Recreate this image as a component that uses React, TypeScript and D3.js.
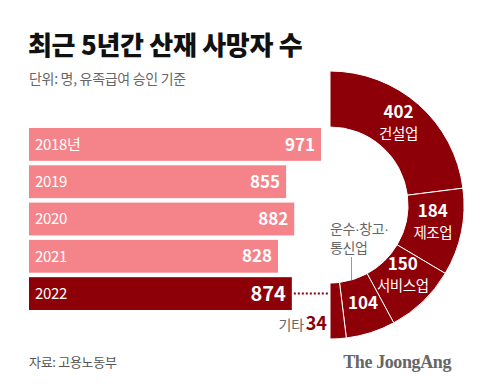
import * as d3 from "d3";
import { useEffect, useRef } from "react";

// 연도별 산재 사망자 수
const years = ["2018년", "2019", "2020", "2021", "2022"];
const deaths = [971, 855, 882, 828, 874];

// 2022년 업종별
const sectors = ["건설업", "제조업", "서비스업", "운수·창고·통신업", "기타"];
const sectorDeaths = [402, 184, 150, 104, 34];

const PINK = "#f5848a";
const DARK = "#8e0008";
const FONT = "'Noto Sans CJK KR', 'Noto Sans', sans-serif";

const App = () => {
  const ref = useRef<SVGSVGElement>(null);
  const width = 480;
  const height = 390;

  useEffect(() => {
    const svg = d3.select(ref.current);
    svg.selectAll("*").remove();

    svg.append("rect").attr("width", width).attr("height", height).attr("fill", "#fff");

    // 제목
    svg.append("text")
      .attr("x", 28).attr("y", 55)
      .attr("font-family", FONT).attr("font-weight", 900)
      .attr("font-size", 26).attr("letter-spacing", -0.3)
      .attr("fill", "#111")
      .text("최근 5년간 산재 사망자 수");

    svg.append("text")
      .attr("x", 29).attr("y", 84)
      .attr("font-family", FONT).attr("font-size", 14)
      .attr("letter-spacing", -0.3)
      .attr("fill", "#666")
      .text("단위: 명, 유족급여 승인 기준");

    // 막대
    const x = d3.scaleLinear().domain([0, 971]).range([29, 321]);
    const y = d3.scaleBand().domain(years).range([128, 310]).paddingInner(0.12).paddingOuter(0);

    const bars = svg.append("g");
    years.forEach((yr, i) => {
      const last = i === years.length - 1;
      const by = y(yr)!;
      bars.append("rect")
        .attr("x", x(0)).attr("y", by)
        .attr("width", x(deaths[i]) - x(0)).attr("height", y.bandwidth())
        .attr("fill", last ? DARK : PINK);
      bars.append("text")
        .attr("x", 35).attr("y", by + y.bandwidth() / 2)
        .attr("dy", "0.36em")
        .attr("font-family", FONT).attr("font-size", 15)
        .attr("letter-spacing", -0.3)
        .attr("fill", "#fff")
        .text(yr);
      bars.append("text")
        .attr("x", x(deaths[i]) - 6).attr("y", by + y.bandwidth() / 2)
        .attr("dy", "0.36em")
        .attr("text-anchor", "end")
        .attr("font-family", FONT).attr("font-weight", 700)
        .attr("font-size", last ? 20 : 17)
        .attr("fill", "#fff")
        .text(deaths[i]);
    });

    // 반원 도넛
    const cx = 330, cy = 205, r0 = 78, r1 = 134;
    const pie = d3.pie<number>().sort(null).startAngle(0).endAngle(Math.PI);
    const arcs = pie(sectorDeaths);
    const arc = d3.arc<d3.PieArcDatum<number>>().innerRadius(r0).outerRadius(r1);
    const g = svg.append("g").attr("transform", `translate(${cx},${cy})`);
    g.selectAll("path")
      .data(arcs)
      .join("path")
      .attr("d", arc)
      .attr("fill", DARK)
      .attr("stroke", "#fff")
      .attr("stroke-width", 1);

    // 점선 연결
    const lastY = y(years[4])! + y.bandwidth() / 2;
    svg.append("line")
      .attr("x1", x(874) + 2).attr("x2", cx - 1)
      .attr("y1", lastY).attr("y2", lastY)
      .attr("stroke", DARK).attr("stroke-width", 2)
      .attr("stroke-dasharray", "2,2");

    const labelArc = d3.arc<d3.PieArcDatum<number>>().innerRadius(100).outerRadius(110);
    const offs = [[-1, -3], [0, -4], [0, -6], [1, -2]];
    arcs.slice(0, 4).forEach((a, i) => {
      const [lx, ly] = labelArc.centroid(a);
      const tx = lx + offs[i][0], ty = ly + offs[i][1];
      g.append("text")
        .attr("x", tx).attr("y", ty - (i < 3 ? 5 : -6))
        .attr("text-anchor", "middle")
        .attr("font-family", FONT).attr("font-weight", 700)
        .attr("font-size", 17).attr("fill", "#fff")
        .text(a.data);
      if (i < 3) {
        g.append("text")
          .attr("x", tx).attr("y", ty + 16)
          .attr("text-anchor", "middle")
          .attr("font-family", FONT).attr("font-size", 14.5)
          .attr("letter-spacing", -0.4)
          .attr("fill", "#fff")
          .text(sectors[i]);
      }
    });

    // 운수·창고·통신업 라벨 (안쪽)
    const tr = arcs[3];
    const ang = (tr.startAngle + tr.endAngle) / 2 + 0.03;
    const px = r0 * Math.sin(ang);
    const py = -r0 * Math.cos(ang);
    g.append("line")
      .attr("x1", px).attr("x2", px)
      .attr("y1", py).attr("y2", 52)
      .attr("stroke", "#999").attr("stroke-width", 1);
    const [l1, l2] = ["운수·창고·", "통신업"];
    const t1 = g.append("text")
      .attr("x", 0).attr("y", 29)
      .attr("font-family", FONT).attr("font-size", 14)
      .attr("letter-spacing", -0.4)
      .attr("fill", "#666");
    // 가운뎃점은 좁은 글꼴로
    l1.split(/(·)/).filter((s) => s).forEach((s) => {
      t1.append("tspan")
        .attr("font-family", s === "·" ? "'Liberation Sans', sans-serif" : FONT)
        .text(s);
    });
    g.append("text")
      .attr("x", 0).attr("y", 48)
      .attr("font-family", FONT).attr("font-size", 14)
      .attr("letter-spacing", -0.4)
      .attr("fill", "#666")
      .text(l2);

    // 기타
    const etc = svg.append("text")
      .attr("x", cx - 3).attr("y", 330)
      .attr("text-anchor", "end")
      .attr("font-family", FONT);
    etc.append("tspan").attr("font-size", 14).attr("fill", "#666").attr("letter-spacing", -0.3).text("기타");
    etc.append("tspan").attr("font-size", 18).attr("font-weight", 700).attr("fill", DARK).attr("dx", 2).text(sectorDeaths[4]);

    // 출처
    svg.append("text")
      .attr("x", 29).attr("y", 367)
      .attr("font-family", FONT).attr("font-size", 13)
      .attr("letter-spacing", -0.3)
      .attr("fill", "#555")
      .text("자료: 고용노동부");

    svg.append("text")
      .attr("x", 451).attr("y", 368)
      .attr("text-anchor", "end")
      .attr("font-family", "'Liberation Serif', 'DejaVu Serif', serif")
      .attr("font-weight", 700).attr("font-size", 18)
      .attr("letter-spacing", -0.4)
      .attr("fill", "#666")
      .text("The JoongAng");
  }, []);

  return (
    <svg ref={ref} width={width} height={height}
      style={{ position: "absolute", left: 0, top: 0, display: "block" }} />
  );
};

export default App;
